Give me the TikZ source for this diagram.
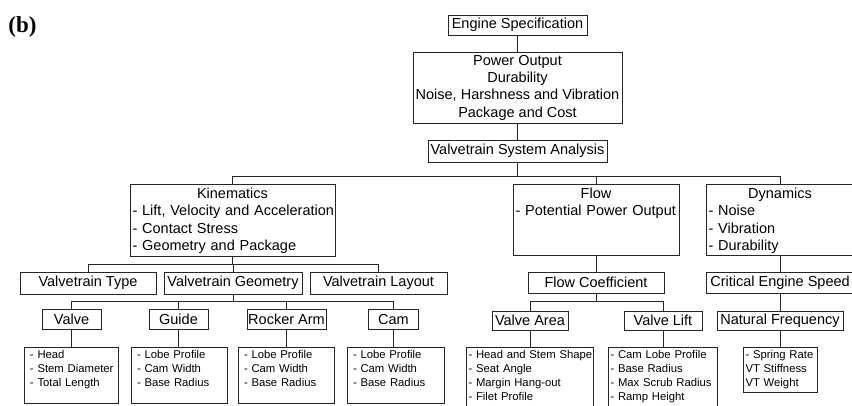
\documentclass[tikz,border=0pt]{standalone}
\usepackage{fontspec}
\setmainfont{Liberation Sans}
\newfontfamily\tagfont{Liberation Serif}
\usepackage{tikz}
\usetikzlibrary{positioning,calc}
\newcommand{\hd}[1]{\makebox[\linewidth]{#1}}

\begin{document}
\begin{tikzpicture}[x=1pt, y=-1pt,
	box/.style={draw=black!85, line width=1pt, inner sep=0pt, align=center, font=\fontsize{14.5}{17.3}\selectfont},
	sz/.style 2 args={minimum width=#1pt, minimum height=#2pt},
	lst/.style={draw=black!85, line width=1pt, inner xsep=2.5pt, inner ysep=0pt, align=left, font=\fontsize{14.5}{17.6}\selectfont},
	sub/.style={lst, inner xsep=6pt, font=\fontsize{11.3}{14}\selectfont},
	tl/.style n args={3}{text width=#1pt, text height=#2pt, text depth=#3pt},
	link/.style={draw=black!85, line width=1pt}]
	\useasboundingbox (0,0) rectangle (852,405);

	\node[font=\tagfont\bfseries\fontsize{23}{23}\selectfont] (tag) at (22.5,26.5) {(b)};

	\node[box, sz={139}{20}] (spec) at (517.5,25) {Engine Specification};
	\node[box, sz={209}{71}] (req) at (517.5,87.5) {Power Output\\Durability\\Noise, Harshness and Vibration\\Package and Cost};
	\node[box, sz={179}{22}] (vsa) at (517.5,151) {Valvetrain System Analysis};

	\node[lst, tl={200}{14}{58}] (kin) at (232.5,220) {\hd{Kinematics}\\\mbox{- Lift, Velocity and Acceleration}\\- Contact Stress\\- Geometry and Package};
	\node[lst, tl={161}{14}{57}] (flow) at (596,219.5) {\hd{Flow}\\- Potential Power Output};
	\node[lst, tl={143}{14}{57}] (dyn) at (780,219.5) {\hd{Dynamics}\\- Noise\\- Vibration\\- Durability};

	\node[box, sz={136}{22}] (vtype) at (88,283) {Valvetrain Type};
	\node[box, sz={138}{22}] (vgeo) at (233,283) {Valvetrain Geometry};
	\node[box, sz={137}{22}] (vlay) at (378.5,283) {Valvetrain Layout};
	\node[box, sz={136}{21}] (fc) at (596,282.5) {Flow Coefficient};
	\node[box, sz={148}{21}] (ces) at (780,282.5) {Critical Engine Speed};

	\node[box, sz={59}{20}] (valve) at (71.5,319) {Valve};
	\node[box, sz={59}{20}] (guide) at (178.5,319) {Guide};
	\node[box, sz={79}{20}] (rocker) at (286.5,319) {Rocker Arm};
	\node[box, sz={50}{20}] (cam) at (393.5,319.5) {Cam};
	\node[box, sz={76}{19}] (varea) at (530,320.5) {Valve Area};
	\node[box, sz={78}{19}] (vlift) at (663,320.5) {Valve Lift};
	\node[box, sz={126}{19}] (natf) at (780,320.5) {Natural Frequency};

	\node[sub, tl={82}{11}{45}] (valvelist) at (71,375) {- Head\\\mbox{- Stem Diameter}\\- Total Length};
	\node[sub, tl={84}{11}{45}] (guidelist) at (179,375) {- Lobe Profile\\- Cam Width\\- Base Radius};
	\node[sub, tl={84}{11}{45}] (rockerlist) at (286,375) {- Lobe Profile\\- Cam Width\\- Base Radius};
	\node[sub, tl={85}{11}{45}] (camlist) at (395.5,375) {- Lobe Profile\\- Cam Width\\- Base Radius};
	\node[sub, inner xsep=2.5pt, tl={122}{11}{54}] (arealist) at (529.5,379.5) {\mbox{- Head and Stem Shape}\\- Seat Angle\\- Margin Hang-out\\- Filet Profile};
	\node[sub, inner xsep=2.5pt, tl={104}{11}{54}] (liftlist) at (662.5,379.5) {- Cam Lobe Profile\\- Base Radius\\\mbox{- Max Scrub Radius}\\- Ramp Height};
	\node[sub, inner xsep=2.5pt, tl={69}{11}{34}] (natlist) at (780,369.5) {- Spring Rate\\VT Stiffness\\VT Weight};

	\draw[link] (spec) -- (req);
	\draw[link] (req) -- (vsa);
	\foreach \c in {kin,flow,dyn}
		\draw[link] (vsa.south) -- ++(0,14) -| (\c.north);
	\foreach \c in {vtype,vgeo,vlay}
		\draw[link] (kin.south) -- ++(0,8) -| (\c.north);
	\foreach \c in {valve,guide,rocker,cam}
		\draw[link] (vgeo.south) -- ++(0,7) -| (\c.north);
	\foreach \c in {varea,vlift}
		\draw[link] (fc.south) -- ++(0,8) -| (\c.north);
	\draw[link] (flow) -- (fc);
	\draw[link] (dyn) -- (ces);
	\draw[link] (ces) -- (natf);
	\foreach \a/\b in {valve/valvelist,guide/guidelist,rocker/rockerlist,cam/camlist,varea/arealist,vlift/liftlist,natf/natlist}
		\draw[link] (\a.south) -- (\a.south |- \b.north);
\end{tikzpicture}
\end{document}
